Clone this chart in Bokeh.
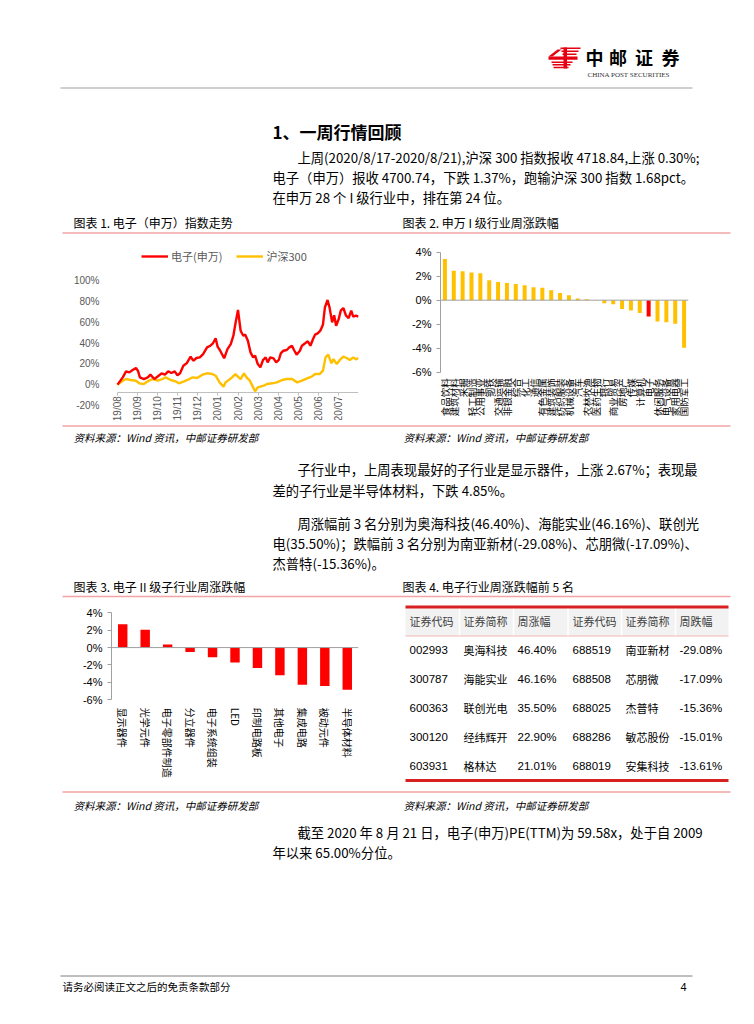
import math
import datetime as dt
from bokeh.plotting import figure
from bokeh.layouts import column, row
from bokeh.models import (Range1d, FactorRange, FixedTicker, PrintfTickFormatter,
                          Span, Legend, LegendItem, ColumnDataSource)
from bokeh.core.properties import value
from bokeh.embed import file_html
from bokeh.resources import INLINE

CJK = "Noto Sans CJK SC"
SANS = "Liberation Sans"
SERIF = "Liberation Serif"
RED = "#FF0000"
GOLD = "#FFC000"
PINK = "#F2A3A3"
AXIS = "#A0A0A0"

# ---------------- data ----------------
# Chart 1: cumulative change since 2019-08-21 (%), x = days since start
ele_days = [0, 8, 13, 18, 23, 28, 31, 34, 40, 46, 50, 56, 62, 67, 72, 77, 82, 87, 91, 95,
            100, 105, 111, 115, 120, 125, 130, 136, 141, 145, 149, 152, 156, 162, 167, 172,
            176, 179, 183, 187, 191, 194, 198, 202, 206, 209, 213, 217, 221, 225, 228, 232,
            237, 241, 245, 248, 252, 257, 261, 265, 268, 272, 277, 280, 285, 289, 293, 297,
            300, 304, 308, 312, 315, 319, 322, 326, 329, 332, 336, 339, 343, 347, 351, 355,
            358, 362, 366]
ele_vals = [0, 7.0, 12.8, 11.8, 14.0, 16.0, 13.4, 7.0, 5.4, 7.0, 9.6, 5.4, 8.3, 10.9, 9.6,
            12.8, 11.2, 12.8, 9.0, 10.9, 18.2, 20.5, 26.9, 23.0, 25.6, 26.2, 29.4, 35.8, 37.4,
            39.7, 44.5, 36.5, 32.6, 25.3, 34.2, 39.0, 47.0, 58.2, 71.7, 51.8, 47.0, 48.0, 42.2,
            31.0, 26.2, 27.8, 19.8, 16.6, 23.7, 26.2, 21.4, 26.2, 25.3, 21.4, 23.7, 30.0, 32.6,
            33.3, 35.8, 37.4, 33.3, 28.8, 32.6, 37.4, 39.7, 41.6, 37.4, 43.8, 48.0, 49.3, 51.8,
            57.6, 74.2, 81.3, 74.2, 59.8, 66.6, 56.6, 63.0, 71.0, 73.6, 66.2, 64.0, 71.0, 65.3,
            66.2, 65.3]
hs_days = [0, 8, 13, 20, 28, 33, 40, 46, 53, 61, 68, 73, 81, 88, 93, 101, 109, 114, 121, 129,
           136, 144, 149, 155, 161, 164, 169, 174, 179, 184, 187, 192, 196, 201, 206, 209, 213,
           217, 222, 227, 235, 242, 250, 257, 265, 273, 280, 288, 295, 300, 307, 312, 316, 320,
           325, 328, 333, 338, 343, 348, 353, 358, 362, 366]
hs_vals = [0, 3.8, 5.4, 4.5, 3.8, 1.3, 0.6, 3.2, 5.4, 3.8, 5.4, 7.0, 4.5, 3.2, 1.3, 3.2, 5.4,
           7.0, 6.4, 9.6, 10.9, 10.2, 8.6, 2.2, -1.9, 2.2, 4.5, 7.0, 10.2, 7.0, 5.4, 10.9, 7.0,
           3.8, -2.6, -6.4, -2.6, -1.9, -1.0, 0.6, 1.3, 2.2, 4.5, 5.4, 5.4, 2.2, 3.8, 6.0, 7.7,
           10.2, 10.2, 13.4, 26.2, 28.8, 20.5, 24.6, 19.8, 24.0, 26.9, 25.6, 23.7, 26.2, 24.3,
           25.6]
y1_ticks = [-20, 0, 20, 40, 60, 80, 100]
series1_names = ["电子(申万)", "沪深300"]

# Chart 2: SW level-1 industries weekly change (%)
sw_names = ["食品饮料", "建筑材料", "采掘", "轻工制造", "公用事业", "钢铁", "交通运输", "非银金融",
            "综合", "化工", "通信", "有色金属", "建筑装饰", "纺织服装", "机械设备", "汽车",
            "农林牧渔", "医药生物", "银行", "商业贸易", "房地产", "传媒", "计算机", "电子",
            "休闲服务", "电气设备", "家用电器", "国防军工"]
sw_chg = [3.44, 2.45, 2.42, 2.31, 2.25, 1.66, 1.52, 1.44, 1.35, 1.24, 1.07, 1.04, 0.82, 0.59,
          0.42, 0.14, 0.08, -0.02, -0.25, -0.34, -0.73, -0.87, -1.07, -1.37, -1.77, -1.83,
          -1.97, -3.97]
highlight = "电子"

# Chart 3: electronics sub-industries weekly change (%)
sub_names = ["显示器件", "光学元件", "电子零部件制造", "分立器件", "电子系统组装", "LED",
             "印制电路板", "其他电子", "集成电路", "被动元件", "半导体材料"]
sub_chg = [2.67, 2.05, 0.36, -0.50, -1.11, -1.72, -2.36, -3.17, -4.28, -4.42, -4.85]
pct_ticks = [-6, -4, -2, 0, 2, 4]

# Chart 4: table
tbl_header = ["证券代码", "证券简称", "周涨幅", "证券代码", "证券简称", "周跌幅"]
up_codes = ["002993", "300787", "600363", "300120", "603931"]
up_names = ["奥海科技", "海能实业", "联创光电", "经纬辉开", "格林达"]
up_pct = ["46.40%", "46.16%", "35.50%", "22.90%", "21.01%"]
dn_codes = ["688519", "688508", "688025", "688286", "688019"]
dn_names = ["南亚新材", "芯朋微", "杰普特", "敏芯股份", "安集科技"]
dn_pct = ["-29.08%", "-17.09%", "-15.36%", "-15.01%", "-13.61%"]


# ---------------- helpers ----------------
def page(x0, x1, y0, y1):
    p = figure(width=x1 - x0, height=y1 - y0, x_range=Range1d(x0, x1), y_range=Range1d(y1, y0),
               x_axis_location=None, y_axis_location=None, toolbar_location=None,
               output_backend="svg", min_border=0)
    p.grid.visible = False
    p.outline_line_color = None
    return p


def txt(p, x, y, s, size=13.3, font=CJK, color="#000000", align="left", style="normal"):
    p.text(x=[x], y=[y], text=[s], text_font=value(font), text_font_size=f"{size}px",
           text_color=color, text_align=align, text_baseline="middle", text_font_style=style)


def hline(p, x0, x1, y, color, w=1.0):
    p.segment(x0=[x0], y0=[y], x1=[x1], y1=[y], line_color=color, line_width=w)


# ---------------- section 1 : header ----------------
s1 = page(0, 754, 0, 240)
s1.quad(left=[560, 561, 562], right=[580, 578, 576], top=[47, 50, 53], bottom=[48.6, 51.6, 54.6],
        fill_color="#E60012", line_color=None)
s1.quad(left=[548], right=[577], top=[56], bottom=[59.2], fill_color="#E60012", line_color=None)
s1.quad(left=[551, 552, 553], right=[572, 570, 568], top=[61, 63.6, 66.2],
        bottom=[62.5, 65.1, 67.7], fill_color="#E60012", line_color=None)
s1.quad(left=[563], right=[566.5], top=[47], bottom=[68], fill_color="#E60012", line_color=None)
s1.patches(xs=[[548, 557, 561, 552]], ys=[[56, 49, 49, 56]], fill_color="#E60012", line_color=None)
for cx, ch in zip([594, 617.5, 643.5, 670], "中邮证券"):
    txt(s1, cx, 56, ch, size=18, align="center", style="bold")
txt(s1, 587, 74.5, "CHINA POST SECURITIES", size=7, font=SERIF, color="#333333")
hline(s1, 60, 692, 87.5, "#BFBFBF", 1.5)
txt(s1, 272, 131, "1、一周行情回顾", size=17, style="bold")
txt(s1, 297, 157, "上周(2020/8/17-2020/8/21),沪深 300 指数报收 4718.84,上涨 0.30%;")
txt(s1, 272, 177, "电子（申万）报收 4700.74，下跌 1.37%，跑输沪深 300 指数 1.68pct。")
txt(s1, 272, 197, "在申万 28 个 I 级行业中，排在第 24 位。")
txt(s1, 73, 222, "图表 1. 电子（申万）指数走势", size=12)
txt(s1, 402, 222, "图表 2. 申万 I 级行业周涨跌幅", size=12)
hline(s1, 62, 730, 232.5, PINK, 1.5)

# ---------------- chart 1 ----------------
start = dt.datetime(2019, 8, 21)
end = dt.datetime(2020, 8, 21)
ele_x = [start + dt.timedelta(days=d) for d in ele_days]
hs_x = [start + dt.timedelta(days=d) for d in hs_days]
span_days = (end - start).days
tick_dates = [start + dt.timedelta(days=k * span_days / 12) for k in range(12)]
tick_labels = [d.strftime("%y/%m") for d in tick_dates]
epoch = dt.datetime(1970, 1, 1)
tick_ms = [(d - epoch).total_seconds() * 1000 for d in tick_dates]
axis_y1 = -7.2          # value where the horizontal axis line sits
left_pad = dt.timedelta(days=span_days * 7 / 241)   # 7px of room left of the first point

# frame = whole figure height (240..420); -20% sits at 405, 100% at 280
p1 = figure(width=395, height=180, x_axis_type="datetime", x_range=Range1d(start - left_pad, end),
            y_range=Range1d(-34.4, 138.4), toolbar_location=None, output_backend="svg",
            min_border_left=110, min_border_right=37, min_border_top=0, min_border_bottom=0)
p1.grid.visible = False
p1.outline_line_color = None
r_hs = p1.line(hs_x, hs_vals, line_color=GOLD, line_width=2.4)
r_el = p1.line(ele_x, ele_vals, line_color=RED, line_width=2.4)
yax = p1.yaxis[0]
yax.ticker = FixedTicker(ticks=y1_ticks)
yax.formatter = PrintfTickFormatter(format="%d%%")
yax.axis_line_color = None
yax.major_tick_line_color = None
yax.minor_tick_line_color = None
yax.major_label_text_font = SANS
yax.major_label_text_font_size = "10px"
yax.major_label_text_color = "#595959"
yax.major_label_standoff = 5
xax = p1.xaxis[0]
xax.fixed_location = axis_y1
xax.bounds = (start, end)
xax.ticker = FixedTicker(ticks=tick_ms)
xax.major_label_overrides = {t: "" for t in tick_ms}
xax.axis_line_color = "#BFBFBF"
xax.major_tick_line_color = "#BFBFBF"
xax.major_tick_in = 0
xax.major_tick_out = 3
xax.minor_tick_line_color = None
p1.text(x=tick_dates, y=[axis_y1] * len(tick_dates), text=tick_labels, angle=math.pi / 2,
        text_align="right", text_baseline="middle", y_offset=4, text_font=value(SANS),
        text_font_size="10px", text_color="#595959")
leg = Legend(items=[LegendItem(label=series1_names[0], renderers=[r_el]),
                    LegendItem(label=series1_names[1], renderers=[r_hs])],
             orientation="horizontal", location=(31, 156), border_line_color=None,
             background_fill_alpha=0, label_text_font=CJK, label_text_font_size="11px",
             label_text_color="#595959", glyph_width=27, glyph_height=10, label_standoff=3,
             spacing=14, padding=2, margin=0)
p1.add_layout(leg)


def style_bar_axes(p, names, label_font_size, orient, align, standoff):
    p.grid.visible = False
    p.outline_line_color = None
    ya = p.yaxis[0]
    ya.ticker = FixedTicker(ticks=pct_ticks)
    ya.formatter = PrintfTickFormatter(format="%d%%")
    ya.bounds = (min(pct_ticks), max(pct_ticks))
    ya.axis_line_color = AXIS
    ya.major_tick_line_color = AXIS
    ya.major_tick_in = 0
    ya.major_tick_out = 4
    ya.minor_tick_line_color = None
    ya.major_label_text_font = SANS
    ya.major_label_text_font_size = "11px"
    ya.major_label_text_color = "#000000"
    ya.major_label_standoff = 5
    p.xaxis.visible = False
    p.add_layout(Span(location=0, dimension="width", line_color=AXIS, line_width=1))
    p.text(x=names, y=[min(pct_ticks)] * len(names), text=names, angle=orient,
           text_align=align, text_baseline="middle", y_offset=standoff, text_font=value(CJK),
           text_font_size=label_font_size, text_color="#000000")


# ---------------- chart 2 ----------------
# frame = whole figure height (240..420); 4% at 251.7, -6% at 371.7
colors2 = [RED if n == highlight else GOLD for n in sw_names]
src2 = ColumnDataSource(dict(x=sw_names, top=sw_chg, color=colors2))
p2 = figure(width=359, height=180, x_range=FactorRange(factors=sw_names),
            y_range=Range1d(-10.03, 4.975), toolbar_location=None, output_backend="svg",
            min_border_left=45, min_border_right=66, min_border_top=0, min_border_bottom=0)
p2.vbar(x="x", top="top", width=0.45, fill_color="color", line_color=None, source=src2)
style_bar_axes(p2, sw_names, "9.5px", math.pi / 2, "right", 6)

# ---------------- section 3 ----------------
s3 = page(0, 754, 420, 600)
hline(s3, 62, 730, 425.5, PINK, 1.5)
txt(s3, 73, 437, "资料来源：Wind 资讯，中邮证券研发部", size=10.5, style="italic")
txt(s3, 403, 437, "资料来源：Wind 资讯，中邮证券研发部", size=10.5, style="italic")
txt(s3, 297, 469, "子行业中，上周表现最好的子行业是显示器件，上涨 2.67%；表现最")
txt(s3, 272, 490, "差的子行业是半导体材料，下跌 4.85%。")
txt(s3, 297, 523, "周涨幅前 3 名分别为奥海科技(46.40%)、海能实业(46.16%)、联创光")
txt(s3, 272, 543, "电(35.50%)；跌幅前 3 名分别为南亚新材(-29.08%)、芯朋微(-17.09%)、")
txt(s3, 272, 563, "杰普特(-15.36%)。")
txt(s3, 73, 586, "图表 3. 电子 II 级子行业周涨跌幅", size=12)
txt(s3, 402, 586, "图表 4. 电子行业周涨跌幅前 5 名", size=12)
hline(s3, 62, 730, 596, PINK, 1.5)

# ---------------- chart 3 ----------------
# frame = whole figure height (600..786); 4% at 612.3, -6% at 699.3
src3 = ColumnDataSource(dict(x=sub_names, top=sub_chg))
p3 = figure(width=395, height=186, x_range=FactorRange(factors=sub_names),
            y_range=Range1d(-15.97, 5.41), toolbar_location=None, output_backend="svg",
            min_border_left=111, min_border_right=37, min_border_top=0, min_border_bottom=0)
p3.vbar(x="x", top="top", width=0.42, fill_color=RED, line_color=None, source=src3)
style_bar_axes(p3, sub_names, "10px", -math.pi / 2, "left", 8)

# ---------------- chart 4 : table ----------------
pt = figure(width=359, height=186, x_range=Range1d(395, 754), y_range=Range1d(5.69, -0.724),
            x_axis_location=None, y_axis_location=None, toolbar_location=None,
            output_backend="svg", min_border=0)
pt.grid.visible = False
pt.outline_line_color = None
col_x = [409, 463, 517, 572, 625, 679]
pt.quad(left=[405], right=[728], top=[-0.5], bottom=[0.5], fill_color="#F2F2F2", line_color=None)
pt.segment(x0=[459, 513, 567.5, 621, 675], y0=[-0.5] * 5, x1=[459, 513, 567.5, 621, 675],
           y1=[0.5] * 5, line_color="#FFFFFF", line_width=1.5)
pt.segment(x0=[405], y0=[0.5], x1=[728], y1=[0.5], line_color="#F4B6B6", line_width=1)
pt.segment(x0=[405, 405], y0=[-0.5, 5.48], x1=[728, 728], y1=[-0.5, 5.48],
           line_color="#D92020", line_width=3)
pt.text(x=col_x, y=[0] * 6, text=tbl_header, text_font=value(CJK), text_font_size="11px",
        text_color="#404040", text_baseline="middle")
rows_idx = [1, 2, 3, 4, 5]
for cx, vals in [(col_x[0], up_codes), (col_x[2], up_pct), (col_x[3], dn_codes), (col_x[5], dn_pct)]:
    pt.text(x=[cx] * 5, y=rows_idx, text=vals, text_font=value(SANS), text_font_size="11.5px",
            text_color="#000000", text_baseline="middle")
for cx, vals in [(col_x[1], up_names), (col_x[4], dn_names)]:
    pt.text(x=[cx] * 5, y=rows_idx, text=vals, text_font=value(CJK), text_font_size="11px",
            text_color="#000000", text_baseline="middle")

# ---------------- section 5 ----------------
s5 = page(0, 754, 786, 1024)
hline(s5, 62, 730, 791.5, PINK, 1.5)
txt(s5, 73, 805, "资料来源：Wind 资讯，中邮证券研发部", size=10.5, style="italic")
txt(s5, 403, 805, "资料来源：Wind 资讯，中邮证券研发部", size=10.5, style="italic")
txt(s5, 297, 832, "截至 2020 年 8 月 21 日，电子(申万)PE(TTM)为 59.58x，处于自 2009")
txt(s5, 272, 852, "年以来 65.00%分位。")
hline(s5, 60, 692, 975.5, "#7F7F7F", 1)
txt(s5, 62, 986, "请务必阅读正文之后的免责条款部分", size=10.5)
txt(s5, 683, 986, "4", size=11, font=SANS, align="center")

layout = column(s1, row(p1, p2), s3, row(p3, pt), s5)
open("out.html", "w").write(file_html(layout, INLINE))
